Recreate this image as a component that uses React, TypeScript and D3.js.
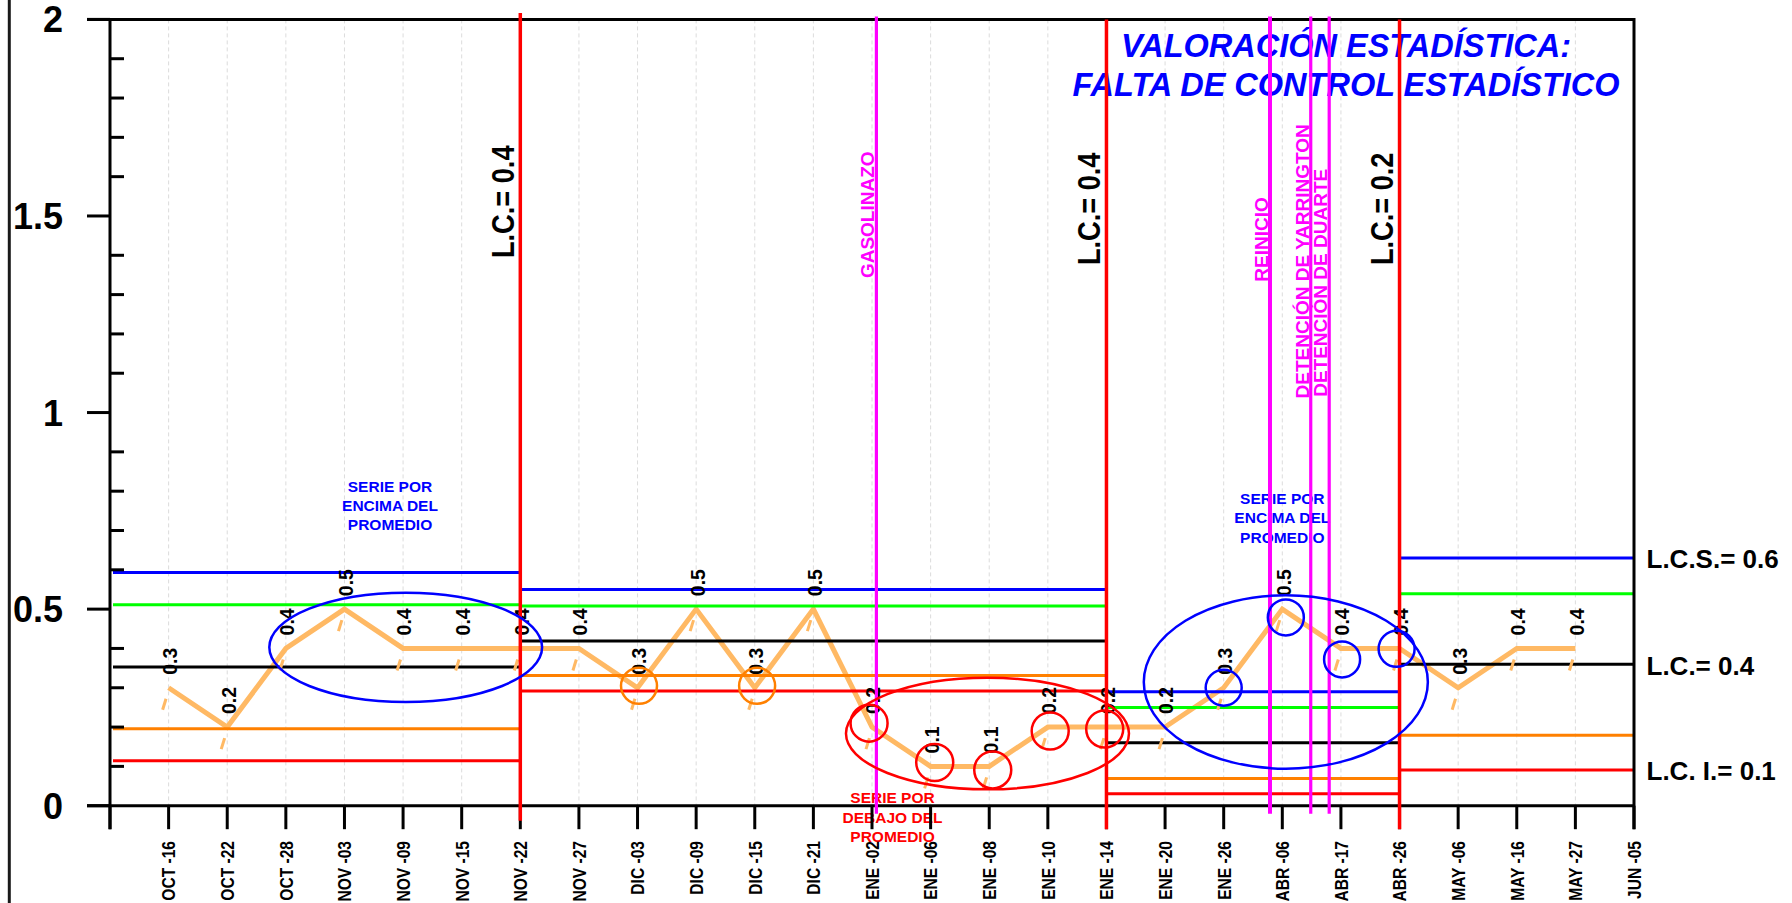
import React from "react";
import * as d3 from "d3";

// ---------- data ----------
const categories = [
  "OCT -16", "OCT -22", "OCT -28", "NOV -03", "NOV -09", "NOV -15", "NOV -22",
  "NOV -27", "DIC -03", "DIC -09", "DIC -15", "DIC -21", "ENE -02", "ENE -06",
  "ENE -08", "ENE -10", "ENE -14", "ENE -20", "ENE -26", "ABR -06", "ABR -17",
  "ABR -26", "MAY -06", "MAY -16", "MAY -27", "JUN -05",
];
const values = [
  0.3, 0.2, 0.4, 0.5, 0.4, 0.4, 0.4, 0.4, 0.3, 0.5, 0.3, 0.5, 0.2, 0.1, 0.1,
  0.2, 0.2, 0.2, 0.3, 0.5, 0.4, 0.4, 0.3, 0.4, 0.4,
];
const yTicks = [0, 0.5, 1, 1.5, 2];

// control-limit segments (start/end in category index units)
const segStart = [0, 7, 17, 22];
const segEnd = [7, 17, 22, 26];
const ucl = [0.593, 0.550, 0.290, 0.630];
const upper2 = [0.511, 0.508, 0.250, 0.539];
const center = [0.353, 0.419, 0.160, 0.360];
const lower2 = [0.196, 0.331, 0.069, 0.179];
const lcl = [0.1145, 0.292, 0.0305, 0.091];

// phase changes (red vertical lines)
const phaseIdx = [7, 17, 22];
const phaseLabels = ["L.C.= 0.4", "L.C.= 0.4", "L.C.= 0.2"];
const phaseLabelBottom = [1.393, 1.375, 1.375];

// events (magenta vertical lines)
const eventIdx = [13.075, 19.79, 20.485, 20.8];
const eventLabels = ["GASOLINAZO", "REINICIO", "DETENCIÓN DE YARRINGTON", "DETENCIÓN DE DUARTE"];
const eventLabelBottom = [1.342, 1.333, 1.036, 1.04];

// right-hand limit labels
const rightLabels = ["L.C.S.= 0.6", "L.C.= 0.4", "L.C. I.= 0.1"];

// annotation circles (index, value)
const orangeCircles = [[9.025, 0.305], [11.04, 0.305]];
const redCircles = [[12.95, 0.21], [14.07, 0.11], [15.06, 0.091], [16.04, 0.19], [16.97, 0.195]];
const blueCircles = [[19.0, 0.3], [20.06, 0.479], [21.02, 0.372], [21.95, 0.399]];
// big ellipses: [cx idx, cy value, rx idx, ry value]
const blueEllipses = [[5.045, 0.4028, 2.327, 0.139], [20.06, 0.3146, 2.423, 0.2205]];
const redEllipses = [[14.97, 0.1836, 2.414, 0.142]];

// annotation notes
const noteLines = [["SERIE POR", "ENCIMA DEL", "PROMEDIO"], ["SERIE POR", "DEBAJO DEL", "PROMEDIO"], ["SERIE POR", "ENCIMA DEL", "PROMEDIO"]];
const noteIdx = [4.777, 13.35, 20.0];
const noteVal = [0.7987, 0.0061, 0.7674];
const noteColor = ["#0000FF", "#FF0000", "#0000FF"];

const titleLines = ["VALORACIÓN ESTADÍSTICA:", "FALTA DE CONTROL ESTADÍSTICO"];

// ---------- chart ----------
const W = 1792;
const H = 903;
const FONT = "'Liberation Sans', Arial, Helvetica, sans-serif";

export default function App() {
  const x = d3.scaleLinear().domain([0, 26]).range([110, 1634]);
  const y = d3.scaleLinear().domain([0, 2]).range([805.7, 19.4]);
  const x0 = x(0);
  const x1 = x(26);
  const unitX = x(1) - x(0);
  const unitY = y(0) - y(1);

  const line = d3
    .line<number>()
    .x((_, i) => x(i + 1))
    .y((d) => y(d));

  const minorTicks = d3.range(0, 21).map((k) => k / 10).filter((t) => !yTicks.some((m) => Math.abs(m - t) < 1e-9));

  const limitSets: [number[], string][] = [
    [lcl, "#FF0000"],
    [lower2, "#FF8000"],
    [center, "#000000"],
    [upper2, "#00FF00"],
    [ucl, "#0000FF"],
  ];

  const LIGHT = "#FFB964";

  return (
    <svg
      width={W}
      height={H}
      style={{ position: "absolute", left: 0, top: 0, display: "block", background: "#fff" }}
      fontFamily={FONT}
    >
      <rect x={0} y={0} width={W} height={H} fill="#fff" />
      {/* outer frame line on the left */}
      <line x1={9.3} x2={9.3} y1={0} y2={H} stroke="#1a1a1a" strokeWidth={3} />

      {/* vertical grid */}
      {categories.slice(0, 25).map((_, i) => (
        <line
          key={"g" + i}
          x1={x(i + 1)}
          x2={x(i + 1)}
          y1={y(2)}
          y2={y(0)}
          stroke="#dcdcdc"
          strokeWidth={1}
          strokeDasharray="4,3"
        />
      ))}

      {/* title */}
      {titleLines.map((t, k) => (
        <text
          key={"t" + k}
          x={1346}
          y={56.7 + k * 39.3}
          textAnchor="middle"
          fontSize={32.5}
          fontWeight="bold"
          fontStyle="italic"
          fill="#0000FF"
        >
          {t}
        </text>
      ))}

      {/* annotation notes */}
      {noteLines.map((lines, n) =>
        lines.map((t, k) => (
          <text
            key={"n" + n + k}
            x={x(noteIdx[n])}
            y={y(noteVal[n]) + k * 19.4}
            textAnchor="middle"
            fontSize={15.5}
            fontWeight="bold"
            fill={noteColor[n]}
          >
            {t}
          </text>
        ))
      )}

      {/* data line */}
      <path d={line(values) || ""} fill="none" stroke={LIGHT} strokeWidth={5} strokeLinejoin="miter" />

      {/* control limit lines */}
      {limitSets.map(([arr, col], s) =>
        arr.map((v, k) => (
          <line
            key={"l" + s + "-" + k}
            x1={k === 0 ? x0 + 3 : x(segStart[k])}
            x2={x(segEnd[k])}
            y1={y(v)}
            y2={y(v)}
            stroke={col}
            strokeWidth={3}
          />
        ))
      )}

      {/* small markers under points */}
      {values.map((v, i) => (
        <line
          key={"m" + i}
          x1={x(i + 1) - 2.6}
          y1={y(v) + 11}
          x2={x(i + 1) - 6}
          y2={y(v) + 22}
          stroke={LIGHT}
          strokeWidth={3}
        />
      ))}

      {/* value labels */}
      {values.map((v, i) => (
        <text
          key={"v" + i}
          transform={`translate(${x(i + 1) + 1},${y(v) - 13}) rotate(-90) scale(0.95,1)`}
          dy="0.36em"
          fontSize={20.5}
          fontWeight="bold"
          fill="#000"
        >
          {v.toFixed(1)}
        </text>
      ))}

      {/* axes */}
      <line x1={x0 - 23} x2={x1} y1={y(2)} y2={y(2)} stroke="#000" strokeWidth={3} />
      <line x1={x0 - 23} x2={x1} y1={y(0)} y2={y(0)} stroke="#000" strokeWidth={3} />
      <line x1={x0} x2={x0} y1={y(2)} y2={y(0) + 23.5} stroke="#000" strokeWidth={3} />
      <line x1={x1} x2={x1} y1={y(2) - 1.5} y2={y(0) + 23.5} stroke="#000" strokeWidth={3} />
      {yTicks.map((t) => (
        <g key={"yt" + t}>
          <line x1={x0 - 23} x2={x0} y1={y(t)} y2={y(t)} stroke="#000" strokeWidth={3} />
          <text
            x={63}
            y={y(t)}
            dy="0.36em"
            textAnchor="end"
            fontSize={36}
            fontWeight="bold"
            fill="#000"
          >
            {String(t)}
          </text>
        </g>
      ))}
      {minorTicks.map((t) => (
        <line key={"mt" + t} x1={x0} x2={x0 + 14} y1={y(t)} y2={y(t)} stroke="#000" strokeWidth={3} />
      ))}
      {d3.range(0, 27).map((i) => (
        <line key={"xt" + i} x1={x(i)} x2={x(i)} y1={y(0)} y2={y(0) + 23.5} stroke="#000" strokeWidth={3} />
      ))}
      {categories.map((c, i) => (
        <text
          key={"xl" + i}
          transform={`translate(${x(i + 1)},841) rotate(-90) scale(0.82,1)`}
          dy="0.36em"
          textAnchor="end"
          fontSize={19}
          fontWeight="bold"
          fill="#000"
        >
          {c}
        </text>
      ))}

      {/* event lines (magenta) */}
      {eventIdx.map((e, k) => (
        <g key={"e" + k}>
          <line
            x1={x(e)}
            x2={x(e)}
            y1={y(2) - 3}
            y2={y(0) + 8}
            stroke="#FF00FF"
            strokeWidth={k === 1 ? 4 : 3.2}
          />
          <text
            transform={`translate(${x(e) - 2},${y(eventLabelBottom[k])}) rotate(-90)`}
            fontSize={19}
            fontWeight="bold"
            fill="#FF00FF"
          >
            {eventLabels[k]}
          </text>
        </g>
      ))}

      {/* phase change lines (red) */}
      {phaseIdx.map((p, k) => (
        <g key={"p" + k}>
          <line
            x1={x(p)}
            x2={x(p)}
            y1={k === 0 ? y(2) - 6.5 : y(2)}
            y2={k === 0 ? y(0) + 15 : y(0) + 23.5}
            stroke="#FF0000"
            strokeWidth={3.5}
          />
          <text
            transform={`translate(${x(p) - 6.5},${y(phaseLabelBottom[k])}) rotate(-90) scale(0.85,1)`}
            fontSize={32}
            fontWeight="bold"
            fill="#000"
          >
            {phaseLabels[k]}
          </text>
        </g>
      ))}

      {/* circles and ellipses */}
      {orangeCircles.map(([ci, cv], k) => (
        <circle key={"oc" + k} cx={x(ci)} cy={y(cv)} r={18} fill="none" stroke="#FF8000" strokeWidth={2.5} />
      ))}
      {redCircles.map(([ci, cv], k) => (
        <circle key={"rc" + k} cx={x(ci)} cy={y(cv)} r={18.5} fill="none" stroke="#FF0000" strokeWidth={2.5} />
      ))}
      {blueCircles.map(([ci, cv], k) => (
        <circle key={"bc" + k} cx={x(ci)} cy={y(cv)} r={18} fill="none" stroke="#0000FF" strokeWidth={2.5} />
      ))}
      {blueEllipses.map(([ci, cv, rx, ry], k) => (
        <ellipse
          key={"be" + k}
          cx={x(ci)}
          cy={y(cv)}
          rx={rx * unitX}
          ry={ry * unitY}
          fill="none"
          stroke="#0000FF"
          strokeWidth={2.5}
        />
      ))}
      {redEllipses.map(([ci, cv, rx, ry], k) => (
        <ellipse
          key={"re" + k}
          cx={x(ci)}
          cy={y(cv)}
          rx={rx * unitX}
          ry={ry * unitY}
          fill="none"
          stroke="#FF0000"
          strokeWidth={2.5}
        />
      ))}

      {/* right-hand labels */}
      {[ucl[3], center[3], lcl[3]].map((v, k) => (
        <text
          key={"rl" + k}
          x={x1 + 12.5}
          y={y(v) + 1}
          dy="0.36em"
          fontSize={26}
          fontWeight="bold"
          fill="#000"
        >
          {rightLabels[k]}
        </text>
      ))}
    </svg>
  );
}
